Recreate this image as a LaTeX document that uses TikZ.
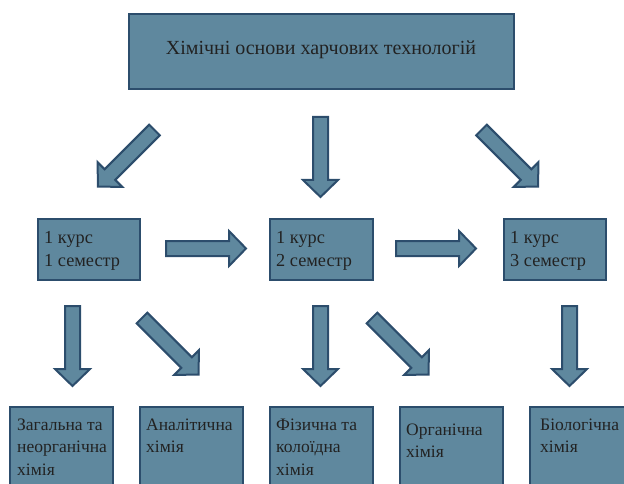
\documentclass[tikz,border=0pt]{standalone}
\usepackage{fontspec}
\setmainfont{Liberation Serif}
\definecolor{boxfill}{HTML}{5F889E}
\definecolor{boxline}{HTML}{2C4D6C}
\definecolor{txt}{HTML}{222222}
\newcommand\blkarrow[2]{%
  \draw[blk, shift={#1}, rotate=#2] (0,-7.5) -- (63,-7.5) -- (63,-17.5) -- (80,0) -- (63,17.5) -- (63,7.5) -- (0,7.5) -- cycle;}
\begin{document}
\begin{tikzpicture}[x=1pt,y=-1pt,
  box/.style={draw=boxline, fill=boxfill, line width=2pt, rectangle, inner sep=0pt, anchor=north west},
  blk/.style={draw=boxline, fill=boxfill, line width=2pt, line join=miter},
  lbl/.style={anchor=base west, inner sep=0pt, align=left, text=txt},
  big/.style={font=\fontsize{20}{24}\selectfont},
  mid/.style={font=\fontsize{18.3}{23}\selectfont},
  small/.style={font=\fontsize{17.5}{22.5}\selectfont},
]
\useasboundingbox (0,0) rectangle (624,484);
\begin{scope}
\clip (0,0) rectangle (624,484);
% boxes
\node[box, minimum width=385pt, minimum height=75pt] (top) at (128,13) {};
\node[box, minimum width=102pt, minimum height=61pt] (s1) at (37,218) {};
\node[box, minimum width=103pt, minimum height=61pt] (s2) at (269,218) {};
\node[box, minimum width=102pt, minimum height=61pt] (s3) at (503,218) {};
\node[box, minimum width=103pt, minimum height=100pt] (d1) at (9,406) {};
\node[box, minimum width=103pt, minimum height=100pt] (d2) at (139,406) {};
\node[box, minimum width=103pt, minimum height=100pt] (d3) at (269,406) {};
\node[box, minimum width=103pt, minimum height=100pt] (d4) at (399,406) {};
\node[box, minimum width=103pt, minimum height=100pt] (d5) at (529,406) {};
% texts (base anchor = baseline of the last line)
\node[big, text=txt, anchor=base, inner sep=0pt] (toptext) at (321,55) {Хімічні основи харчових технологій};
\node[lbl, mid] (t1) at (44,266) {1 курс\\1 семестр};
\node[lbl, mid] (t2) at (276,266) {1 курс\\2 семестр};
\node[lbl, mid] (t3) at (510,266) {1 курс\\3 семестр};
\node[lbl, small] (e1) at (17,475) {Загальна та\\неорганічна\\хімія};
\node[lbl, small] (e2) at (146,452.5) {Аналітична\\хімія};
\node[lbl, small] (e3) at (276,475) {Фізична та\\колоїдна\\хімія};
\node[lbl, small] (e4) at (406,457.5) {Органічна\\хімія};
\node[lbl, small] (e5) at (540,452.5) {Біологічна\\хімія};
% block arrows
\blkarrow{(154.5,130)}{225}
\blkarrow{(320.5,117)}{270}
\blkarrow{(481.5,130)}{315}
\blkarrow{(166,248.5)}{0}
\blkarrow{(396,248.5)}{0}
\blkarrow{(72.5,306)}{270}
\blkarrow{(142,318)}{315}
\blkarrow{(320.5,306)}{270}
\blkarrow{(372,318)}{315}
\blkarrow{(569.5,306)}{270}
\end{scope}
\end{tikzpicture}
\end{document}
